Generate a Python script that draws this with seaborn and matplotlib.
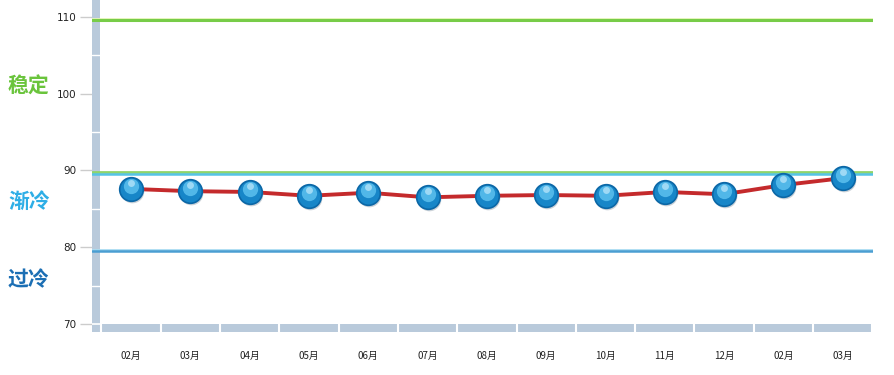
import numpy as np
import pandas as pd
import matplotlib
matplotlib.use("Agg")
import matplotlib.pyplot as plt
import matplotlib.transforms as mtransforms
import seaborn as sns

# data
months = ["02月", "03月", "04月", "05月", "06月", "07月", "08月",
          "09月", "10月", "11月", "12月", "02月", "03月"]
values = [87.6, 87.3, 87.2, 86.7, 87.1, 86.5, 86.7, 86.8, 86.7, 87.2, 86.9, 88.1, 89.0]

stable_line = 109.6
cool_line = 89.7
cold_line = 79.5
yticks = [70, 80, 90, 100, 110]

sns.set_style("white")
plt.rcParams["font.family"] = ["Noto Sans CJK SC", "DejaVu Sans"]

df = pd.DataFrame({"pos": np.arange(len(months)), "value": values})

fig = plt.figure(figsize=(8.95, 3.75), dpi=100)
ax = fig.add_axes([92 / 895, 43 / 375, 781 / 895, 332 / 375])

x0, x1 = -0.658, 12.51
y0, y1 = 68.96, 112.2
ax.set_xlim(x0, x1)
ax.set_ylim(y0, y1)

# gray frame bands
band = "#b9cadb"
ax.axvspan(x0, -0.523, color=band, zorder=1, lw=0)
ax.axhspan(y0, 70, xmin=(-0.49 - x0) / (x1 - x0), color=band, zorder=1, lw=0)
for b in np.arange(-0.5, 12.6, 1.0):
    ax.axvline(b, ymin=0, ymax=(70 - y0) / (y1 - y0), color="white", lw=1.5, zorder=2)
for m in [75, 85, 95, 105]:
    ax.plot([x0, -0.523], [m, m], color="white", lw=1, zorder=2)
ax.plot([x0, -0.523], [70, 70], color="white", lw=1.2, zorder=2)

# threshold lines
ax.axhline(stable_line + 0.12, color="#e6f5b8", lw=2, zorder=3)
ax.axhline(stable_line, color="#77cc48", lw=2.2, zorder=3)
ax.axhline(cool_line + 0.1, color="#8fd46a", lw=2, zorder=3)
ax.axhline(cool_line - 0.15, color="#55c3e6", lw=1.8, zorder=3)
ax.axhline(cold_line + 0.12, color="#a9dcf2", lw=2, zorder=3)
ax.axhline(cold_line, color="#4b9ed2", lw=1.8, zorder=3)

# main line
sns.lineplot(data=df, x="pos", y="value", color="#c42a2c", lw=2.8, ax=ax, zorder=4)

# shadow, ball, highlight
shadow = ax.transData + mtransforms.ScaledTranslation(1 / 100, -2 / 100, fig.dpi_scale_trans)
ax.plot(df["pos"], df["value"], "o", ms=17, color="#9aa7b3", alpha=0.5,
        mec="none", transform=shadow, zorder=5)
ax.plot(df["pos"], df["value"], "o", ms=17, color="#1786c8", mec="#0b67a6",
        mew=1.2, zorder=6)
hl = ax.transData + mtransforms.ScaledTranslation(0, 3 / 100, fig.dpi_scale_trans)
ax.plot(df["pos"], df["value"], "o", ms=11, color="#5cc0ee", alpha=0.85,
        mec="none", transform=hl, zorder=7)
hl2 = ax.transData + mtransforms.ScaledTranslation(0, 6 / 100, fig.dpi_scale_trans)
ax.plot(df["pos"], df["value"], "o", ms=5, color="#bfe8fb", alpha=0.7,
        mec="none", transform=hl2, zorder=8)

# axes styling
for s in ax.spines.values():
    s.set_visible(False)
ax.set_yticks(yticks)
ax.set_yticklabels([str(t) for t in yticks], fontsize=7.5, color="#222222",
                   family=["DejaVu Sans"])
ax.tick_params(axis="y", length=9, width=1, color="#cccccc", pad=2, left=True)
ax.set_xticks(df["pos"])
ax.set_xticklabels(months, fontsize=7, color="#222222")
ax.tick_params(axis="x", length=0, pad=14)
ax.set_xlabel("")
ax.set_ylabel("")
ax.grid(False)

# zone labels
fig.text(8 / 895, 1 - 86 / 375, "稳定", color="#6ac43c", fontsize=15,
         fontweight="bold", va="center", ha="left")
fig.text(8 / 895, 1 - 201 / 375, "渐冷", color="#2eaee6", fontsize=15,
         fontweight="bold", va="center", ha="left")
fig.text(8 / 895, 1 - 280 / 375, "过冷", color="#1c6fb4", fontsize=15,
         fontweight="bold", va="center", ha="left")

fig.savefig("out.png", dpi=100)
